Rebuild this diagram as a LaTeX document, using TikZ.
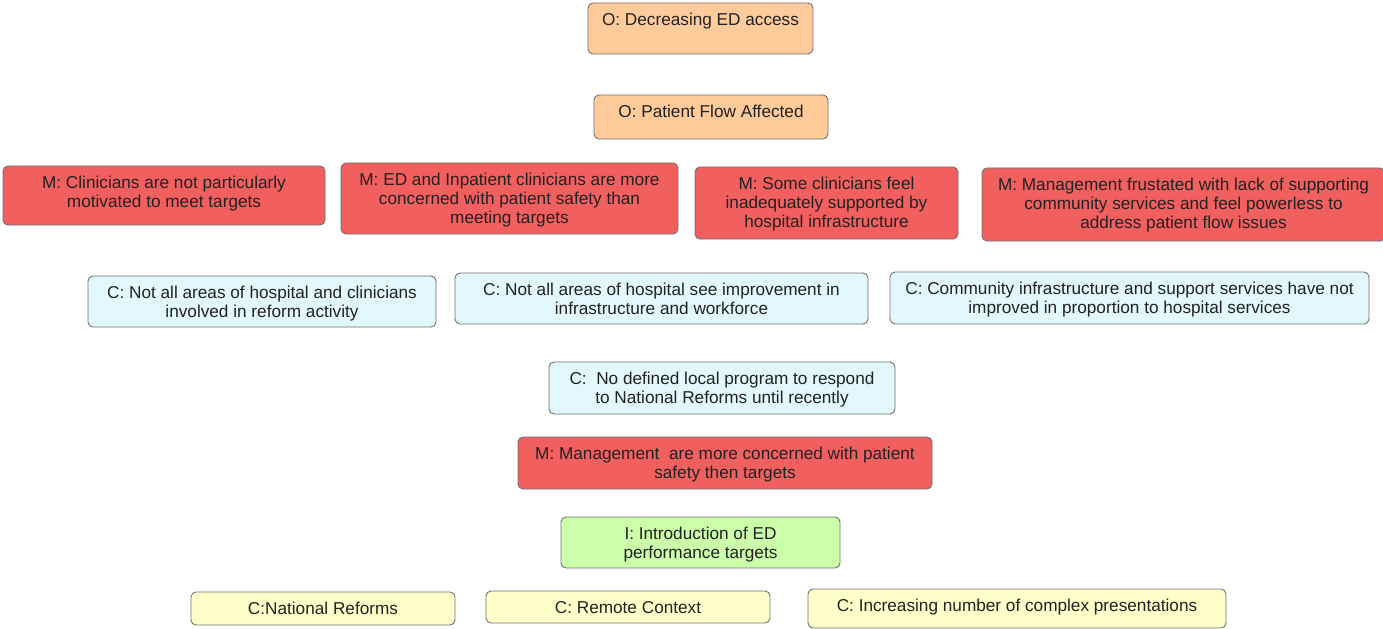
\documentclass[tikz,border=0pt]{standalone}
\usepackage{fontspec}
\setmainfont{Liberation Sans}
\definecolor{outc}{HTML}{FFCB9B}
\definecolor{mech}{HTML}{F15F5F}
\definecolor{ctx}{HTML}{E3F8FC}
\definecolor{intv}{HTML}{CCFFAA}
\definecolor{base}{HTML}{FFFFC9}
\definecolor{edge}{HTML}{707070}
\definecolor{ink}{HTML}{222222}
\tikzset{
  cell/.style={draw=edge, line width=0.9bp, rounded corners=5bp, inner sep=0pt, outer sep=0pt},
  outcome/.style={cell, fill=outc},
  mechanism/.style={cell, fill=mech},
  context/.style={cell, fill=ctx},
  intervention/.style={cell, fill=intv},
  basecontext/.style={cell, fill=base},
  txt/.style={inner sep=0pt, outer sep=0pt, align=center, text=ink,
    font=\fontsize{17.2bp}{18.6bp}\selectfont}
}
% #1 name, #2 style, #3 left, #4 top, #5 right, #6 bottom, #7 text
\newcommand\cellbox[7]{%
  \node[#2, minimum width={(#5-#3)*1bp}, minimum height={(#6-#4)*1bp}]
    (#1) at ({(#3+#5)/2},{(#4+#6)/2}) {};
  \node[txt, anchor=north] (#1t) at ([yshift=-10.5bp]#1.north) {#7};
}
\begin{document}
\begin{tikzpicture}[x=1bp, y=-1bp]
\useasboundingbox (0,0) rectangle (1383,629);
\fill[white] (0,0) rectangle (1383,629);

\cellbox{o1}{outcome}{588}{3}{813}{54}{O: Decreasing ED access}
\cellbox{o2}{outcome}{594}{95}{828}{139}{O: Patient Flow Affected}

\cellbox{m1}{mechanism}{3}{166}{325}{225}{M: Clinicians are not particularly\\motivated to meet targets}
\cellbox{m2}{mechanism}{341}{163}{678}{234}{M: ED and Inpatient clinicians are more\\concerned with patient safety than\\meeting targets}
\cellbox{m3}{mechanism}{695}{167}{958}{239}{M: Some clinicians feel\\inadequately supported by\\hospital infrastructure}
\cellbox{m4}{mechanism}{982}{168}{1385}{241}{M: Management frustated with lack of supporting\\community services and feel powerless to\\address patient flow issues}

\cellbox{c1}{context}{88}{276}{436}{327}{C: Not all areas of hospital and clinicians\\involved in reform activity}
\cellbox{c2}{context}{455}{273}{868}{324}{C: Not all areas of hospital see improvement in\\infrastructure and workforce}
\cellbox{c3}{context}{890}{272}{1369}{324}{C: Community infrastructure and support services have not\\improved in proportion to hospital services}

\cellbox{c4}{context}{549}{362}{895}{414}{C:\ \ No defined local program to respond\\to National Reforms until recently}

\cellbox{m5}{mechanism}{518}{437}{932}{489}{M: Management\ \ are more concerned with patient\\safety then targets}

\cellbox{i1}{intervention}{561}{517}{840}{568}{I: Introduction of ED\\performance targets}

\cellbox{b1}{basecontext}{191}{592}{455}{625}{C:National Reforms}
\cellbox{b2}{basecontext}{486}{591}{770}{623}{C: Remote Context}
\cellbox{b3}{basecontext}{808}{589}{1226}{628}{C: Increasing number of complex presentations}
\end{tikzpicture}
\end{document}
